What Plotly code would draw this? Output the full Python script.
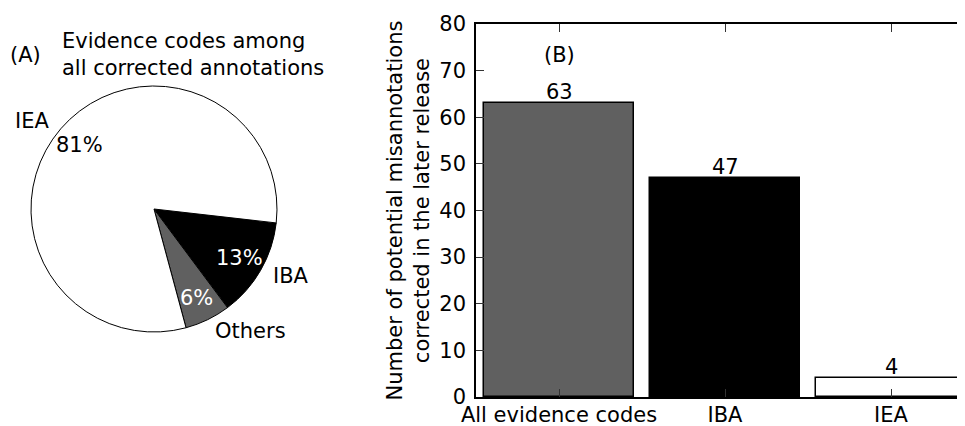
import math
import plotly.graph_objects as go

# ---------------- data ----------------
pie_labels = ["IBA", "Others", "IEA"]
pie_values = [13, 6, 81]
pie_colors = ["black", "#606060", "white"]
pie_pct_colors = ["white", "white", "black"]

bar_categories = ["All evidence codes", "IBA", "IEA"]
bar_values = [63, 47, 4]
bar_colors = ["#606060", "black", "white"]

y_tick_values = [0, 10, 20, 30, 40, 50, 60, 70, 80]

# ---------------- layout constants ----------------
# The page body adds an 8px margin, so the figure is drawn 8px smaller and
# all positions below are given in screen pixels, then converted.
OFF = 8
SW, SH = 965, 426
W, H = SW - OFF, SH - OFF
FONT = "DejaVu Sans"
FS = 21

PIE_CX, PIE_CY, PIE_R = 154.0, 209.0, 123.0
PIE_START = -6.5  # math angle (deg) where first slice begins, going clockwise


def px_x(x):
    return (x - OFF) / W


def px_y(y):
    return 1 - (y - OFF) / H


fig = go.Figure()

fig.add_trace(go.Pie(
    labels=pie_labels,
    values=pie_values,
    marker=dict(colors=pie_colors, line=dict(color="black", width=1)),
    sort=False,
    direction="clockwise",
    rotation=90 - PIE_START,
    textinfo="none",
    hoverinfo="label+percent",
    showlegend=False,
    automargin=False,
    domain=dict(x=[px_x(PIE_CX - PIE_R), px_x(PIE_CX + PIE_R)],
                y=[px_y(PIE_CY + PIE_R), px_y(PIE_CY - PIE_R)]),
))

annotations = []
total = sum(pie_values)
cum = 0
for lab, v, pc in zip(pie_labels, pie_values, pie_pct_colors):
    mid = math.radians(PIE_START - (cum + v / 2) / total * 360)
    cum += v
    c, s = math.cos(mid), math.sin(mid)
    # outer label
    lx = PIE_CX + 1.1 * PIE_R * c
    ly = PIE_CY - 1.1 * PIE_R * s
    annotations.append(dict(
        x=px_x(lx), y=px_y(ly), xref="paper", yref="paper",
        text=lab, showarrow=False,
        xanchor="left" if c > 0 else "right", yanchor="middle",
        font=dict(family=FONT, size=FS, color="black")))
    # percent label
    tx = PIE_CX + 0.8 * PIE_R * c
    ty = PIE_CY - 0.8 * PIE_R * s
    annotations.append(dict(
        x=px_x(tx), y=px_y(ty), xref="paper", yref="paper",
        text=f"{round(v / total * 100)}%", showarrow=False,
        xanchor="center", yanchor="middle",
        font=dict(family=FONT, size=FS, color=pc)))

# pie title
annotations.append(dict(x=px_x(8), y=px_y(55), xref="paper", yref="paper",
                        text="(A)", showarrow=False, xanchor="left", yanchor="middle",
                        font=dict(family=FONT, size=FS, color="black")))
annotations.append(dict(x=px_x(60), y=px_y(55), xref="paper", yref="paper",
                        text="Evidence codes among<br>all corrected annotations",
                        showarrow=False, xanchor="left", yanchor="middle", align="left",
                        font=dict(family=FONT, size=FS, color="black")))

# ---------------- bar chart ----------------
fig.add_trace(go.Bar(
    x=list(range(len(bar_categories))),
    y=bar_values,
    width=0.9,
    marker=dict(color=bar_colors, line=dict(color="black", width=1.5)),
    showlegend=False,
    xaxis="x", yaxis="y",
))
fig.add_trace(go.Scatter(x=[0], y=[0], mode="markers", marker=dict(opacity=0),
                         showlegend=False, hoverinfo="skip", xaxis="x", yaxis="y2"))

for i, v in enumerate(bar_values):
    annotations.append(dict(x=i, y=v, xref="x", yref="y", text=str(v), showarrow=False,
                            xanchor="center", yanchor="bottom", yshift=-3,
                            font=dict(family=FONT, size=FS, color="black")))

PLOT_L, PLOT_T, PLOT_B = 476, 24, 397
x_unit = 166.0
x_hi = -0.5 + (SW - PLOT_L) / x_unit

annotations.append(dict(x=0, y=73.3, xref="x", yref="y", text="(B)", showarrow=False,
                        xanchor="center", yanchor="middle",
                        font=dict(family=FONT, size=FS, color="black")))
annotations.append(dict(x=px_x(408), y=px_y((PLOT_T + PLOT_B) / 2), xref="paper", yref="paper",
                        text="Number of potential misannotations<br>corrected in the later release",
                        textangle=-90, showarrow=False, xanchor="center", yanchor="middle",
                        font=dict(family=FONT, size=FS, color="black")))

fig.update_layout(
    width=W, height=H,
    autosize=False,
    margin=dict(l=0, r=0, t=0, b=0, pad=0),
    paper_bgcolor="white", plot_bgcolor="white",
    font=dict(family=FONT, size=FS, color="black"),
    bargap=0,
    annotations=annotations,
    xaxis=dict(
        domain=[px_x(PLOT_L), 1],
        range=[-0.5, x_hi],
        tickmode="array",
        tickvals=list(range(len(bar_categories))),
        ticktext=bar_categories,
        ticks="inside", ticklen=8, tickwidth=1, tickcolor="#333",
        showline=True, linecolor="black", linewidth=1.5, mirror="ticks",
        showgrid=False, zeroline=False, automargin=False,
        ticklabelstandoff=-2,
        tickfont=dict(family=FONT, size=FS, color="black"),
        anchor="y",
    ),
    yaxis=dict(
        domain=[px_y(PLOT_B), px_y(PLOT_T)],
        range=[0, 80],
        tickmode="array",
        tickvals=y_tick_values,
        ticks="inside", ticklen=8, tickwidth=1, tickcolor="#333",
        showline=True, linecolor="black", linewidth=1.5, mirror=False,
        showgrid=False, zeroline=False, automargin=False,
        ticklabelstandoff=4,
        tickfont=dict(family=FONT, size=FS, color="black"),
        anchor="x",
    ),
    yaxis2=dict(
        domain=[px_y(PLOT_B), px_y(PLOT_T)],
        range=[0, 80],
        overlaying="y", side="right", anchor="x",
        tickmode="array", tickvals=y_tick_values,
        ticks="inside", ticklen=8, tickwidth=1, tickcolor="#333",
        showticklabels=False, showline=False, showgrid=False, zeroline=False,
        automargin=False,
    ),
)

fig.write_html("out.html")
